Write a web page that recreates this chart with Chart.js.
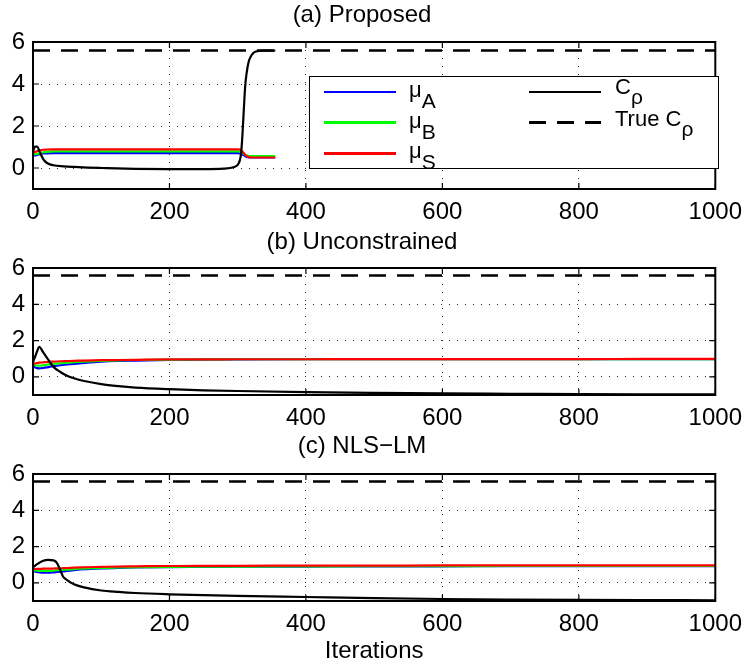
<!DOCTYPE html>
<html>
<head>
<meta charset="utf-8">
<script src="https://cdn.jsdelivr.net/npm/chart.js@4.4.1/dist/chart.umd.min.js"></script>
<style>
  html, body { margin: 0; padding: 0; background: #fff; }
  #figure { position: relative; width: 751px; height: 666px; overflow: hidden;
            font-family: "Liberation Sans", Arial, sans-serif; color: #000; }
  #figure canvas { position: absolute; left: 0; }
  .legend-box { position: absolute; left: 309px; top: 76px; width: 410px; height: 93px;
                box-sizing: border-box; border: 1.5px solid #000; background: #fff; }
  .swatch { position: absolute; width: 72px; height: 2.5px; }
  .label { position: absolute; font-size: 22px; line-height: 22px; white-space: nowrap; }
  .label span { font-size: 21px; position: relative; }
</style>
</head>
<body>
<div id="figure">
  <canvas id="panel-a" width="751" height="228" style="top:0px"></canvas>
  <canvas id="panel-b" width="751" height="210" style="top:222px"></canvas>
  <canvas id="panel-c" width="751" height="238" style="top:428px"></canvas>

  <!-- legend of panel (a) -->
  <div class="legend-box"></div>
  <div class="swatch" style="left:324px;top:90.5px;background:#0000ff"></div>
  <div class="swatch" style="left:324px;top:121.3px;background:#00ff00"></div>
  <div class="swatch" style="left:324px;top:152.1px;background:#ff0000"></div>
  <div class="swatch" style="left:529px;top:90.5px;background:#000"></div>
  <div class="swatch" style="left:529px;top:121.3px;background:repeating-linear-gradient(to right,#000 0 17px,transparent 17px 28px)"></div>
  <div class="label" style="left:409px;top:78.7px">&mu;<span style="top:11px">A</span></div>
  <div class="label" style="left:409px;top:109.5px">&mu;<span style="top:11px">B</span></div>
  <div class="label" style="left:409px;top:140.3px">&mu;<span style="top:11px">S</span></div>
  <div class="label" style="left:615px;top:76.1px">C<span style="top:10px">&rho;</span></div>
  <div class="label" style="left:615px;top:108.1px">True C<span style="top:10px">&rho;</span></div>
</div>

<script>
// Axis ticks shared by all panels
var xTicks = [0, 200, 400, 600, 800, 1000];
var yTicks = [0, 2, 4, 6];

// True C_rho reference value (dashed line)
var trueIter = [0, 1000];
var trueCrho = [5.59, 5.59];

// (a) Proposed
var aIter = [0, 3, 6, 10, 15, 20, 30, 45, 60, 80, 100, 150, 200, 250, 280, 295, 300, 303, 305, 307, 309, 311, 313, 316, 319, 323, 327, 332, 340, 355];
var aCrho = [0.8, 1.02, 1.02, 0.75, 0.42, 0.25, 0.13, 0.08, 0.05, 0.02, 0.0, -0.04, -0.05, -0.05, -0.03, 0.05, 0.15, 0.35, 0.7, 1.6, 2.8, 3.9, 4.5, 5.05, 5.3, 5.48, 5.55, 5.58, 5.59, 5.59];
var aMuA = [0.6, 0.6, 0.62, 0.66, 0.69, 0.7, 0.71, 0.71, 0.71, 0.71, 0.71, 0.71, 0.71, 0.71, 0.71, 0.71, 0.71, 0.7, 0.68, 0.64, 0.6, 0.56, 0.53, 0.51, 0.5, 0.5, 0.5, 0.5, 0.5, 0.5];
var aMuB = [0.68, 0.66, 0.67, 0.71, 0.75, 0.77, 0.79, 0.79, 0.79, 0.79, 0.79, 0.79, 0.79, 0.79, 0.79, 0.79, 0.79, 0.78, 0.76, 0.72, 0.67, 0.63, 0.6, 0.58, 0.57, 0.57, 0.57, 0.57, 0.57, 0.57];
var aMuS = [0.75, 0.77, 0.8, 0.84, 0.87, 0.88, 0.89, 0.89, 0.89, 0.89, 0.89, 0.89, 0.89, 0.89, 0.89, 0.89, 0.89, 0.88, 0.85, 0.78, 0.7, 0.62, 0.56, 0.52, 0.5, 0.5, 0.5, 0.5, 0.5, 0.5];

// (b) Unconstrained
var bIter = [0, 3, 6, 9, 15, 20, 25, 30, 40, 50, 60, 75, 100, 125, 150, 200, 250, 300, 400, 500, 600, 700, 800, 900, 1000];
var bCrho = [0.82, 1.1, 1.4, 1.66, 1.35, 1.08, 0.8, 0.55, 0.27, 0.06, -0.08, -0.23, -0.4, -0.51, -0.59, -0.68, -0.74, -0.78, -0.84, -0.88, -0.91, -0.93, -0.95, -0.96, -0.97];
var bMuA = [0.62, 0.52, 0.48, 0.47, 0.49, 0.52, 0.56, 0.59, 0.64, 0.68, 0.72, 0.77, 0.84, 0.88, 0.9, 0.93, 0.95, 0.96, 0.97, 0.97, 0.97, 0.98, 0.98, 0.98, 0.98];
var bMuB = [0.68, 0.64, 0.62, 0.62, 0.64, 0.67, 0.7, 0.72, 0.75, 0.78, 0.81, 0.84, 0.88, 0.91, 0.93, 0.95, 0.96, 0.97, 0.97, 0.98, 0.98, 0.98, 0.98, 0.98, 0.98];
var bMuS = [0.72, 0.74, 0.76, 0.78, 0.8, 0.82, 0.83, 0.84, 0.86, 0.87, 0.88, 0.9, 0.92, 0.93, 0.94, 0.96, 0.96, 0.97, 0.97, 0.98, 0.98, 0.98, 0.98, 0.99, 0.99];

// (c) NLS-LM
var cIter = [0, 5, 10, 15, 22, 30, 35, 40, 44, 50, 60, 75, 100, 125, 150, 200, 250, 300, 400, 500, 600, 700, 800, 900, 1000];
var cCrho = [0.85, 1.0, 1.12, 1.22, 1.27, 1.24, 1.1, 0.7, 0.35, 0.15, -0.08, -0.25, -0.42, -0.5, -0.56, -0.63, -0.68, -0.72, -0.78, -0.84, -0.89, -0.92, -0.94, -0.95, -0.96];
var cMuA = [0.66, 0.6, 0.57, 0.56, 0.56, 0.58, 0.6, 0.62, 0.63, 0.66, 0.7, 0.75, 0.8, 0.83, 0.85, 0.87, 0.88, 0.89, 0.9, 0.91, 0.91, 0.92, 0.92, 0.92, 0.92];
var cMuB = [0.7, 0.68, 0.66, 0.66, 0.66, 0.68, 0.7, 0.71, 0.72, 0.73, 0.76, 0.79, 0.82, 0.85, 0.86, 0.88, 0.89, 0.9, 0.91, 0.92, 0.92, 0.93, 0.93, 0.93, 0.93];
var cMuS = [0.76, 0.77, 0.77, 0.78, 0.78, 0.79, 0.8, 0.8, 0.81, 0.82, 0.84, 0.86, 0.88, 0.9, 0.91, 0.93, 0.94, 0.94, 0.95, 0.95, 0.96, 0.96, 0.96, 0.96, 0.96];

var Figure = {};
var FONT = { family: '"Liberation Sans", Arial, sans-serif', size: 24, weight: 'normal' };

Figure.points = function (xs, ys) {
  return xs.map(function (x, i) { return { x: x, y: ys[i] }; });
};

Figure.line = function (xs, ys, color, order, dash) {
  return {
    data: Figure.points(xs, ys),
    borderColor: color,
    borderWidth: dash ? 2.5 : 2.2,
    borderDash: dash || [],
    pointRadius: 0,
    fill: false,
    cubicInterpolationMode: 'monotone',
    order: order
  };
};

// box around plot area with inward tick marks, like matlab axes
Figure.frame = {
  id: 'frame',
  afterDatasetsDraw: function (chart) {
    var ctx = chart.ctx, a = chart.chartArea;
    var x = chart.scales.x, y = chart.scales.y;
    ctx.save();
    ctx.strokeStyle = '#000';
    ctx.lineWidth = 1.2;
    ctx.beginPath();
    x.ticks.forEach(function (t) {
      var px = x.getPixelForValue(t.value);
      ctx.moveTo(px, a.bottom); ctx.lineTo(px, a.bottom - 6);
      ctx.moveTo(px, a.top); ctx.lineTo(px, a.top + 6);
    });
    y.ticks.forEach(function (t) {
      var py = y.getPixelForValue(t.value);
      ctx.moveTo(a.left, py); ctx.lineTo(a.left + 6, py);
      ctx.moveTo(a.right, py); ctx.lineTo(a.right - 6, py);
    });
    ctx.stroke();
    ctx.lineWidth = 2;
    ctx.strokeRect(a.left, a.top, a.right - a.left, a.bottom - a.top);
    ctx.restore();
  }
};

Figure.renderPanel = function (id, title, titlePad, xHeight, xTitle, iter, crho, muA, muB, muS) {
  var canvas = document.getElementById(id);
  return new Chart(canvas, {
    type: 'line',
    data: {
      datasets: [
        Figure.line(trueIter, trueCrho, '#000', 1, [17, 11]),
        Figure.line(iter, crho, '#000', 2),
        Figure.line(iter, muS, '#ff0000', 3),
        Figure.line(iter, muB, '#00ff00', 4),
        Figure.line(iter, muA, '#0000ff', 5)
      ]
    },
    options: {
      responsive: false,
      animation: false,
      layout: { padding: { left: 0, right: 27, top: 0, bottom: 0 } },
      plugins: {
        legend: { display: false },
        tooltip: { enabled: false },
        title: { display: true, text: title, color: '#000', font: FONT, padding: titlePad }
      },
      scales: {
        x: {
          type: 'linear', min: 0, max: 1000,
          afterBuildTicks: function (s) { s.ticks = xTicks.map(function (v) { return { value: v }; }); },
          afterFit: function (s) { s.height = xHeight; },
          grid: { color: 'rgba(0,0,0,0.85)', lineWidth: 1, drawTicks: false },
          border: { display: false, dash: [1, 7] },
          ticks: { color: '#000', font: FONT, padding: 9, maxRotation: 0, autoSkip: false,
                   callback: function (v) { return String(v); } },
          title: { display: !!xTitle, text: xTitle || '', color: '#000', font: FONT, padding: { top: 0, bottom: 0 } }
        },
        y: {
          min: -1, max: 6,
          afterBuildTicks: function (s) { s.ticks = yTicks.map(function (v) { return { value: v }; }); },
          afterFit: function (s) { s.width = 33; },
          grid: { color: 'rgba(0,0,0,0.85)', lineWidth: 1, drawTicks: false },
          border: { display: false, dash: [1, 7] },
          ticks: { color: '#000', font: FONT, padding: 8, callback: function (v) { return String(v); } }
        }
      }
    },
    plugins: [Figure.frame]
  });
};

Figure.initialize = function () {
  Figure.renderPanel('panel-a', '(a) Proposed', { top: 1, bottom: 12.2 }, 39, null, aIter, aCrho, aMuA, aMuB, aMuS);
  Figure.renderPanel('panel-b', '(b) Unconstrained', { top: 6, bottom: 11.2 }, 37, null, bIter, bCrho, bMuA, bMuB, bMuS);
  Figure.renderPanel('panel-c', '(c) NLS\u2212LM', { top: 4, bottom: 13.2 }, 65, 'Iterations', cIter, cCrho, cMuA, cMuB, cMuS);
};

Figure.initialize();
</script>
</body>
</html>
